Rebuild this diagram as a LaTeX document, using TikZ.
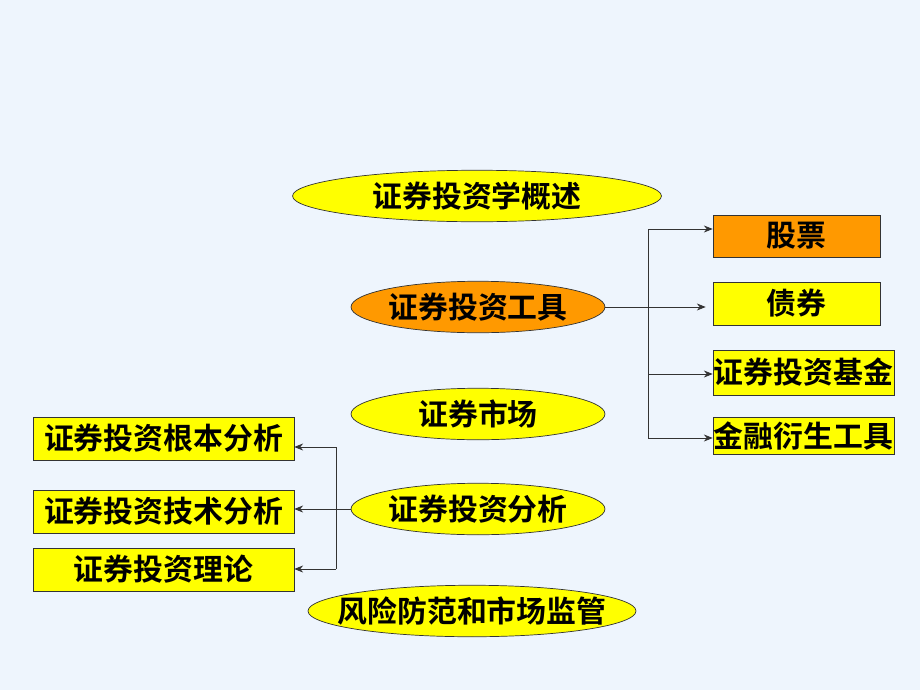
\documentclass[tikz,border=0pt]{standalone}
\usepackage{fontspec}
\setmainfont{Noto Sans CJK SC}[BoldFont={Noto Sans CJK SC Bold}]
\usepackage{xcolor}
\usetikzlibrary{shapes.geometric, arrows.meta}

\definecolor{bgblue}{HTML}{EEF5FD}
\definecolor{ovyellow}{HTML}{FFFF00}
\definecolor{ovorange}{HTML}{FF9900}

\begin{document}
\begin{tikzpicture}[x=0.02cm,y=-0.02cm,>={Stealth[length=5pt,width=4pt]},
    oval/.style={ellipse,draw=black!80,fill=ovyellow,inner sep=0pt,minimum height=1.03cm,font=\fontsize{17}{20}\selectfont\bfseries},
    box/.style={rectangle,draw=black!80,fill=ovyellow,inner sep=0pt,font=\fontsize{17}{20}\selectfont\bfseries}]
        % background
        \fill[bgblue] (0,0) rectangle (920,690);

        % main topics
        \node[oval,minimum width=7.38cm](intro) at (477,196){证券投资学概述};
        \node[oval,fill=ovorange,minimum width=5.08cm](tools) at (478,307){证券投资工具};
        \node[oval,minimum width=5.08cm](market) at (478,414){证券市场};
        \node[oval,minimum width=5.08cm](analysis) at (478,509){证券投资分析};
        \node[oval,inner xsep=-0.42cm,minimum width=6.56cm](risk) at (472,611){风险防范和市场监管};

        % instruments
        \node[box,fill=ovorange,minimum width=3.34cm,minimum height=0.84cm](stock) at (796.5,236){股票};
        \node[box,minimum width=3.34cm,minimum height=0.86cm](bond) at (796.5,303.5){债券};
        \node[box,minimum width=3.62cm,minimum height=0.9cm](fund) at (803.5,372.5){证券投资基金};
        \node[box,minimum width=3.62cm,minimum height=0.74cm](deriv) at (803.5,435.5){金融衍生工具};

        % analysis methods
        \node[box,minimum width=5.22cm,minimum height=0.86cm](fund_ana) at (163.5,438.5){证券投资根本分析};
        \node[box,minimum width=5.22cm,minimum height=0.86cm](tech_ana) at (163.5,511.5){证券投资技术分析};
        \node[box,minimum width=5.22cm,minimum height=0.86cm](theory) at (163.5,569.5){证券投资理论};

        % right connectors
        \coordinate (r_top) at (648,229);
        \coordinate (r_fund) at (648,374);
        \coordinate (r_bot) at (648,438);
        \draw[black!80] (r_top) -- (r_bot);
        \draw[->,black!80,shorten >=4pt] (tools.east) -- (tools.east -| bond.west);
        \draw[->,black!80] (r_top) -- (r_top -| stock.west);
        \draw[->,black!80] (r_fund) -- (r_fund -| fund.west);
        \draw[->,black!80] (r_bot) -- (r_bot -| deriv.west);

        % left connectors
        \coordinate (l_top) at (336,447);
        \coordinate (l_bot) at (336,569);
        \draw[black!80] (l_top) -- (l_bot);
        \draw[->,black!80] (analysis.west) -- (analysis.west -| tech_ana.east);
        \draw[->,black!80] (l_top) -- (l_top -| fund_ana.east);
        \draw[->,black!80] (l_bot) -- (l_bot -| theory.east);
\end{tikzpicture}
\end{document}
